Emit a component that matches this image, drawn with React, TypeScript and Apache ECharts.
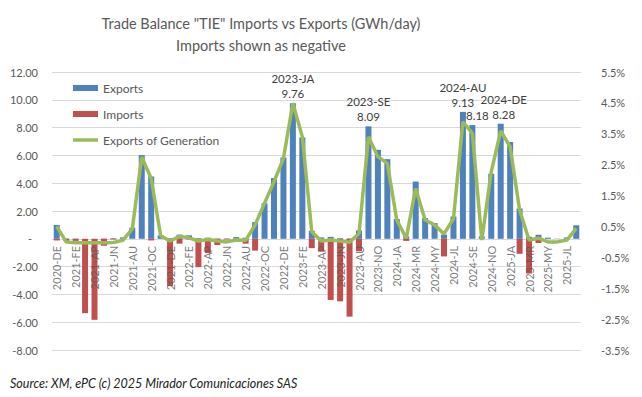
import React, { useEffect, useRef } from "react";
import * as echarts from "echarts";

const categories = [
  "2020-DE",
  "2021-JA", "2021-FE", "2021-MR", "2021-AP", "2021-MY", "2021-JN", "2021-JL", "2021-AU", "2021-SE", "2021-OC", "2021-NO", "2021-DE",
  "2022-JA", "2022-FE", "2022-MR", "2022-AP", "2022-MY", "2022-JN", "2022-JL", "2022-AU", "2022-SE", "2022-OC", "2022-NO", "2022-DE",
  "2023-JA", "2023-FE", "2023-MR", "2023-AP", "2023-MY", "2023-JN", "2023-JL", "2023-AU", "2023-SE", "2023-NO", "2023-DE",
  "2024-JA", "2024-FE", "2024-MR", "2024-AP", "2024-MY", "2024-JN", "2024-JL", "2024-AU", "2024-SE", "2024-OC", "2024-NO", "2024-DE",
  "2025-JA", "2025-FE", "2025-MR", "2025-AP", "2025-MY", "2025-JN", "2025-JL", "2025-AU",
];

const exportsGWh = [
  1.0,
  0.03, 0.02, 0.0, 0.0, 0.02, 0.05, 0.1, 0.8, 6.02, 4.48, 0.25, 0.05,
  0.3, 0.25, 0.05, 0.08, 0.03, 0.03, 0.12, 0.08, 1.2, 2.55, 4.37, 5.85,
  9.76, 7.29, 0.58, 0.1, 0.14, 0.05, 0.03, 0.6, 8.09, 6.4, 5.73,
  1.42, 0.17, 4.12, 1.49, 1.13, 0.3, 1.6, 9.13, 8.18, 0.17, 4.68, 8.28,
  6.96, 2.18, 0.15, 0.29, 0.08, 0.02, 0.1, 0.97,
];

const importsGWh = [
  -0.12,
  -0.15, -0.15, -5.35, -5.83, -0.5, -0.05, 0, 0, 0, -0.12, 0, -3.4,
  -0.35, -0.05, -2.04, -1.03, -0.45, -0.05, 0, -0.35, -0.85, 0, 0, 0,
  0, 0, -0.67, -0.9, -4.4, -4.5, -5.6, -0.9, 0, 0, 0,
  0, -0.15, 0, 0, 0, -1.27, 0, 0, 0, 0, 0, 0,
  0, -1.08, -2.5, -0.3, 0, 0, 0, 0,
];

const exportsOfGenerationPct = [
  0.5,
  0.0, -0.03, -0.03, -0.03, -0.03, -0.02, 0.05, 0.42, 2.75, 2.05, 0.2, 0.03,
  0.18, 0.13, 0.03, 0.08, 0.03, 0.0, 0.06, 0.05, 0.55, 1.25, 1.95, 2.7,
  4.49, 3.4, 0.33, 0.03, 0.06, 0.03, -0.01, 0.27, 3.4, 2.76, 2.54,
  0.71, 0.12, 1.73, 0.71, 0.55, 0.26, 0.75, 3.89, 3.51, 0.06, 2.27, 3.59,
  3.08, 1.03, 0.06, 0.12, 0.0, 0.0, 0.06, 0.44,
];

const annotatedMonths = ["2023-JA", "2023-SE", "2024-AU", "2024-SE", "2024-DE"];
const annotatedWithName = ["2023-JA", "2023-SE", "2024-AU", "2024-DE"];

const leftTicks = { min: -8, max: 12, interval: 2 };
const rightTicks = { min: -3.5, max: 5.5, interval: 1 };
const categoryLabelStep = 2;

const FONT = "Lato, 'Open Sans', sans-serif";
const GREY = "#595959";

const W = 642;
const H = 397;
const GRID = { left: 52, right: 61, top: 72, bottom: 47 };

export default function App() {
  const ref = useRef<HTMLDivElement>(null);

  useEffect(() => {
    if (!ref.current) return;
    const chart = echarts.init(ref.current, undefined, { renderer: "svg" });

    const labelOffset = (cat: string) =>
      cat === "2024-SE" ? [5, 0] : cat === "2024-DE" ? [3, 0] : [0, 0];

    const exportsData = exportsGWh.map((v, i) => {
      const cat = categories[i];
      if (!annotatedMonths.includes(cat)) return v;
      const txt = annotatedWithName.includes(cat)
        ? `${cat}\n${v.toFixed(2)}`
        : v.toFixed(2);
      return {
        value: v,
        label: {
          show: true,
          position: "top",
          distance: 2,
          formatter: txt,
          offset: labelOffset(cat),
          color: "#404040",
          fontFamily: FONT,
          fontSize: 11.5,
          lineHeight: 15,
        },
      };
    });

    // category labels sit next to the zero line, drawn over the bars (Excel style)
    const categoryLabelPoints = categories
      .map((c, i) => ({ value: [i, 0], name: c }))
      .filter((_, i) => i % categoryLabelStep === 0);

    chart.setOption({
      animation: false,
      textStyle: { fontFamily: FONT },
      graphic: [
        {
          type: "text",
          x: 261,
          y: 23,
          style: {
            text: 'Trade Balance "TIE" Imports vs Exports (GWh/day)',
            fill: GREY,
            font: `14.5px ${FONT}`,
            textAlign: "center",
            textVerticalAlign: "middle",
          },
        },
        {
          type: "text",
          x: 261,
          y: 45,
          style: {
            text: "Imports shown as negative",
            fill: GREY,
            font: `14.5px ${FONT}`,
            textAlign: "center",
            textVerticalAlign: "middle",
          },
        },
        {
          type: "text",
          x: 10,
          y: 383,
          style: {
            text: "Source: XM, ePC (c) 2025 Mirador Comunicaciones SAS",
            fill: "#222222",
            font: `italic 12.5px ${FONT}`,
            textAlign: "left",
            textVerticalAlign: "middle",
          },
        },
      ],
      legend: {
        orient: "vertical",
        left: 68,
        top: 76,
        itemWidth: 25,
        itemHeight: 6,
        itemGap: 12,
        textStyle: { color: GREY, fontSize: 12, fontFamily: FONT, lineHeight: 14 },
        data: [
          { name: "Exports", icon: "rect" },
          { name: "Imports", icon: "rect" },
          {
            name: "Exports of Generation",
            icon: "path://M0 0H25V3.5H0Z",
            itemStyle: { color: "#9BBB59" },
          },
        ],
      },
      grid: { ...GRID, containLabel: false },
      xAxis: {
        type: "category",
        data: categories,
        axisLine: { show: false, onZero: false },
        axisTick: { show: false },
        axisLabel: { show: false },
      },
      yAxis: [
        {
          type: "value",
          min: leftTicks.min,
          max: leftTicks.max,
          interval: leftTicks.interval,
          splitLine: { lineStyle: { color: "#D9D9D9" } },
          axisLine: { show: false },
          axisTick: { show: false },
          axisLabel: {
            color: GREY,
            fontSize: 11,
            fontFamily: FONT,
            margin: 14,
            formatter: (v: number) => (v === 0 ? "{z|-}" : v.toFixed(2)),
            rich: { z: { color: GREY, fontSize: 11, fontFamily: FONT, padding: [0, 6, 0, 0] } },
          },
        },
        {
          type: "value",
          min: rightTicks.min,
          max: rightTicks.max,
          interval: rightTicks.interval,
          splitLine: { show: false },
          axisLine: { show: false },
          axisTick: { show: false },
          axisLabel: {
            color: GREY,
            fontSize: 11,
            fontFamily: FONT,
            margin: 20,
            formatter: (v: number) => `${v.toFixed(1)}%`,
          },
        },
      ],
      series: [
        {
          name: "Exports",
          type: "bar",
          data: exportsData,
          barWidth: 6,
          barGap: "-100%",
          itemStyle: { color: "#4F81BD" },
        },
        {
          name: "Imports",
          type: "bar",
          data: importsGWh,
          barWidth: 6,
          barGap: "-100%",
          itemStyle: { color: "#C0504D" },
        },
        {
          name: "Exports of Generation",
          type: "line",
          yAxisIndex: 1,
          data: exportsOfGenerationPct,
          symbol: "none",
          lineStyle: { color: "#9BBB59", width: 3.5 },
          itemStyle: { color: "#9BBB59" },
          z: 5,
        },
        {
          name: "category labels",
          type: "scatter",
          yAxisIndex: 0,
          data: categoryLabelPoints,
          symbolSize: 0,
          silent: true,
          z: 10,
          label: {
            show: true,
            position: "bottom",
            distance: 7,
            rotate: 90,
            align: "right",
            verticalAlign: "middle",
            formatter: (p: any) => p.name,
            color: GREY,
            fontSize: 11,
            fontFamily: FONT,
          },
        },
      ],
    });

    return () => chart.dispose();
  }, []);

  return (
    <div
      ref={ref}
      style={{ position: "absolute", left: 0, top: 0, width: W, height: H, background: "#ffffff" }}
    />
  );
}
